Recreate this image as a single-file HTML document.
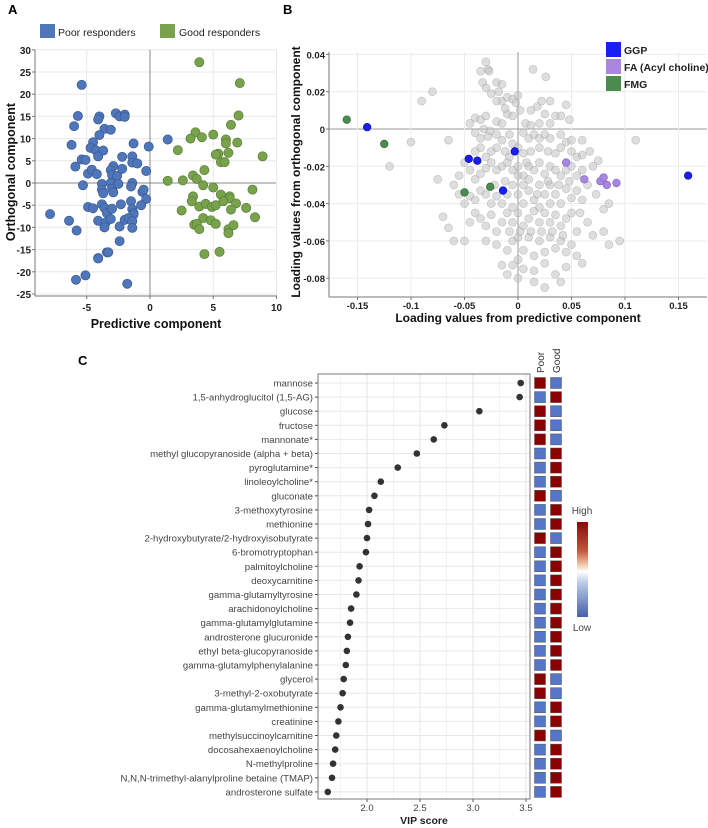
<!DOCTYPE html>
<html><head><meta charset="utf-8"><style>
html,body{margin:0;padding:0;background:#fff}
svg{display:block;font-family:"Liberation Sans",sans-serif}
</style></head><body>
<svg id="fig" width="708" height="828" viewBox="0 0 708 828" xmlns="http://www.w3.org/2000/svg">
<g id="A"></g>
<g id="B"></g>
<g id="C"></g>
</svg>
<script>
// ---------- Panel A data ----------
const poorX=[-5.4,-5.7,-6.0,-6.2,-5.9,-5.3,-5.4,-5.1,-7.9,-6.4,-5.8,-4.9,-4.5,-4.0,-4.1,-3.6,-4.0,-3.1,-4.5,-4.7,-4.3,-3.7,-4.1,-4.9,-4.6,-4.2,-3.8,-3.8,-3.7,-3.8,-3.6,-3.4,-4.1,-3.5,-3.6,-3.1,-3.0,-2.7,-2.4,-2.0,-2.0,-2.9,-3.1,-3.0,-2.6,-2.2,-2.2,-3.1,-3.0,-2.9,-2.5,-2.3,-2.4,-2.4,-3.4,-4.1,-1.3,-1.4,-1.4,-1.0,-1.4,-1.5,-1.5,-1.4,-1.3,-1.3,-2.0,-1.7,-1.4,-1.4,-0.6,-0.5,-0.3,-0.7,-0.3,-0.1,1.4,-5.85,-5.1,-4.1,-3.3,-1.8];
const poorY=[22.1,15.1,12.8,8.6,3.7,-0.5,5.3,5.2,-7,-8.5,-10.7,-5.4,-5.7,15,14.3,12.2,10.8,12,9.2,7.9,7.4,7.3,6,2.1,3,2,-0.2,-1.5,-2.3,-4.8,-5.6,-6.8,-8.5,-8.9,-10,-8.1,-5.8,15.7,15,15.4,14.9,3.8,2.9,1.8,1.6,3.2,5.9,0,-1.3,-2.1,-0.2,-4.8,-9.8,-13.1,-15.6,-16.9,8.9,6,4.6,4.4,0,-0.8,-4.1,-5.9,-6.8,-7.1,-8.3,-7.9,-8.6,-10.1,-2,-1.5,-3.6,-5,2.7,8.2,9.8,-21.8,-20.8,-17,-15.6,-22.7];
const goodX=[3.9,7.1,7.0,6.4,3.6,3.2,4.1,5.0,6.0,6.0,6.9,2.2,6.2,5.4,5.2,5.6,5.9,8.9,4.3,3.4,3.7,1.4,2.6,4.2,5.0,3.4,3.3,3.9,4.4,4.9,5.2,5.6,6.3,6.3,5.8,6.8,6.4,7.6,8.1,8.3,2.5,4.2,4.8,5.2,3.5,3.7,3.9,6.2,6.6,6.2,4.3,5.5];
const goodY=[27.2,22.5,15.2,13.1,11.4,10,10.3,10.9,9.8,8.9,9.1,7.4,6.8,6.6,6.4,4.7,4.7,6,2.9,1.7,0.9,0.5,0.6,-0.5,-1,-3,-4.1,-5.3,-4.7,-5.4,-5,-2.6,-3,-3.5,-4.1,-4.6,-6,-5.6,-1.5,-7.7,-6.2,-7.9,-8.4,-9.2,-9.4,-9.2,-10.4,-10.4,-9.5,-11.3,-16,-15.5];
const aYTicks=[30,25,20,15,10,5,0,-5,-10,-15,-20,-25];
const aXTicks=[-5,0,5,10];

// ---------- Panel B data ----------
const grayX=[-0.03,-0.035,-0.028,-0.027,-0.033,-0.03,-0.025,-0.02,-0.015,-0.018,-0.015,-0.02,-0.01,-0.005,0,-0.002,0.014,0.026,-0.08,-0.09,-0.04,-0.035,-0.03,-0.032,-0.026,-0.02,-0.015,-0.01,-0.012,-0.005,0.002,0.012,0.018,0.022,0.03,0.025,0.035,0.04,0.045,0.048,0.03,0.02,0.007,0.012,-0.045,-0.04,-0.035,-0.028,-0.02,-0.015,-0.008,-0.005,0.005,0.01,0.015,0.02,0.025,0.03,0.04,0.045,0.05,0.06,0.11,-0.1,-0.065,-0.12,-0.075,-0.04,-0.035,-0.03,-0.025,-0.02,-0.012,-0.008,0,0.005,0.012,0.02,0.028,0.035,0.04,0.05,0.055,0.06,0.067,0.075,0.07,-0.05,-0.045,-0.055,-0.04,-0.035,-0.03,-0.025,-0.02,-0.015,-0.01,-0.005,0,0.005,0.01,0.015,0.02,0.025,0.03,0.035,0.04,0.045,0.05,0.055,0.06,0.065,0.073,0.085,0.08,-0.06,-0.055,-0.05,-0.045,-0.04,-0.035,-0.03,-0.025,-0.02,-0.015,-0.01,-0.005,0,0.005,0.01,0.015,0.02,0.025,0.03,0.035,0.04,0.045,0.05,0.055,0.06,-0.07,-0.065,-0.06,-0.05,-0.045,-0.04,-0.035,-0.03,-0.025,-0.02,-0.015,-0.01,-0.005,0,0.005,0.01,0.015,0.02,0.025,0.03,0.035,0.04,0.045,0.05,0.055,0.065,0.07,0.08,0.085,0.095,-0.03,-0.02,-0.01,-0.005,0,0.005,0.01,0.015,0.02,0.025,0.03,0.035,0.04,0.045,0.05,0.055,-0.015,-0.005,0,0.005,0.015,0.025,0.035,0.045,0.06,0.04,0.015,0.025,0.0,-0.01,0.0,0.005,0.01,0.02,0.03,-0.005,0.012,0.022,0.032,0.042,0.002,-0.008,0.018,0.028,0.038,0.008,-0.012,-0.022,0.048,0.058];
const grayY=[0.036,0.031,0.032,0.031,0.025,0.022,0.019,0.025,0.024,0.02,0.015,0.015,0.017,0.016,0.018,0.014,0.032,0.028,0.02,0.015,0.006,0.005,0.007,0,-0.001,0.004,0.003,0.008,0.011,0.007,0.01,0.01,0.012,0.015,0.015,0.008,0.007,0.007,0.013,0.005,0.003,0.003,0.003,0.002,0.003,-0.002,-0.005,-0.004,-0.003,-0.006,-0.003,-0.008,-0.002,-0.005,-0.003,-0.005,-0.003,-0.005,-0.003,-0.007,-0.006,-0.006,-0.006,-0.007,-0.006,-0.02,-0.027,-0.012,-0.01,-0.015,-0.012,-0.01,-0.012,-0.015,-0.01,-0.013,-0.012,-0.01,-0.012,-0.013,-0.01,-0.012,-0.015,-0.014,-0.012,-0.017,-0.02,-0.018,-0.022,-0.025,-0.027,-0.024,-0.021,-0.018,-0.022,-0.02,-0.018,-0.022,-0.02,-0.025,-0.02,-0.022,-0.018,-0.024,-0.02,-0.022,-0.025,-0.022,-0.02,-0.025,-0.022,-0.03,-0.035,-0.04,-0.043,-0.03,-0.035,-0.04,-0.036,-0.038,-0.033,-0.035,-0.04,-0.036,-0.04,-0.035,-0.03,-0.035,-0.03,-0.033,-0.038,-0.03,-0.035,-0.03,-0.035,-0.04,-0.032,-0.037,-0.033,-0.038,-0.047,-0.053,-0.06,-0.06,-0.05,-0.045,-0.048,-0.052,-0.046,-0.055,-0.05,-0.045,-0.05,-0.045,-0.052,-0.048,-0.044,-0.05,-0.045,-0.05,-0.046,-0.052,-0.048,-0.045,-0.055,-0.05,-0.057,-0.055,-0.062,-0.06,-0.06,-0.062,-0.065,-0.06,-0.058,-0.065,-0.058,-0.068,-0.06,-0.066,-0.058,-0.064,-0.06,-0.066,-0.062,-0.068,-0.073,-0.073,-0.07,-0.075,-0.076,-0.072,-0.078,-0.074,-0.072,-0.082,-0.082,-0.085,-0.08,-0.078,-0.025,-0.04,-0.027,-0.042,-0.04,-0.042,-0.055,-0.055,-0.055,-0.057,-0.055,-0.055,-0.035,-0.028,-0.03,-0.018,-0.028,-0.03,-0.028,-0.045];
const ggpX=[-0.141,-0.046,-0.038,-0.003,-0.014,0.159];
const ggpY=[0.001,-0.016,-0.017,-0.012,-0.033,-0.025];
const faX=[0.045,0.062,0.077,0.080,0.083,0.092];
const faY=[-0.018,-0.027,-0.028,-0.026,-0.030,-0.029];
const fmgX=[-0.160,-0.125,-0.050,-0.026];
const fmgY=[0.005,-0.008,-0.034,-0.031];
const bYTicks=[0.04,0.02,0,-0.02,-0.04,-0.06,-0.08];
const bXTicks=[-0.15,-0.1,-0.05,0,0.05,0.1,0.15];

// ---------- Panel C data ----------
const metabolites=["mannose","1,5-anhydroglucitol (1,5-AG)","glucose","fructose","mannonate*","methyl glucopyranoside (alpha + beta)","pyroglutamine*","linoleoylcholine*","gluconate","3-methoxytyrosine","methionine","2-hydroxybutyrate/2-hydroxyisobutyrate","6-bromotryptophan","palmitoylcholine","deoxycarnitine","gamma-glutamyltyrosine","arachidonoylcholine","gamma-glutamylglutamine","androsterone glucuronide","ethyl beta-glucopyranoside","gamma-glutamylphenylalanine","glycerol","3-methyl-2-oxobutyrate","gamma-glutamylmethionine","creatinine","methylsuccinoylcarnitine","docosahexaenoylcholine","N-methylproline","N,N,N-trimethyl-alanylproline betaine (TMAP)","androsterone sulfate"];
const vipScores=[3.45,3.44,3.06,2.73,2.63,2.47,2.29,2.13,2.07,2.02,2.01,2.00,1.99,1.93,1.92,1.90,1.85,1.84,1.82,1.81,1.80,1.78,1.77,1.75,1.73,1.71,1.70,1.68,1.67,1.63];
const poorHigh=[1,0,1,1,1,0,0,0,1,0,0,1,0,0,0,0,0,0,0,0,0,1,1,0,0,1,0,0,0,0];
const vipTicks=[2.0,2.5,3.0,3.5];

const NS="http://www.w3.org/2000/svg";
function el(parent,tag,attrs,text){const e=document.createElementNS(NS,tag);for(const k in attrs)e.setAttribute(k,attrs[k]);if(text!==undefined)e.textContent=text;parent.appendChild(e);return e;}
function fmt(v){return String(v);}

// ---------- Panel A ----------
(function(){
const g=document.getElementById('A');
const L=35,R=277,T=50,Bt=296;
const xs=v=>150+v*12.65, ys=v=>183-v*4.44;
let t=el(g,'text',{x:8,y:14,'font-size':13,'font-weight':'bold'},'A');


let lg=el(g,'g',{});


let r1=el(lg,'rect',{x:40,y:24,width:15,height:14,fill:'#4f76b9'});


let t1=el(lg,'text',{x:58,y:36,'font-size':10.5,fill:'#222'},'Poor responders');


let r2=el(lg,'rect',{x:160,y:24,width:15,height:14,fill:'#78a24c'});


let t2=el(lg,'text',{x:179,y:36,'font-size':10.5,fill:'#222'},'Good responders');


aYTicks.forEach(v=>{const y=ys(v);
 const l=el(g,'line',{x1:L,x2:R,y1:y,y2:y,stroke:v===0?'#888':'#e8e8e8','stroke-width':1});
 
 
 el(g,'line',{x1:L-3,x2:L,y1:y,y2:y,stroke:'#777'});
 const tx=el(g,'text',{x:L-4,y:y+4,'font-size':10,'font-weight':'bold','text-anchor':'end',fill:'#222'},fmt(v));
 
 
});
aXTicks.forEach(v=>{const x=xs(v);
 const l=el(g,'line',{x1:x,x2:x,y1:T,y2:Bt,stroke:v===0?'#888':'#e8e8e8','stroke-width':1});
 
 
 el(g,'line',{x1:x,x2:x,y1:Bt,y2:Bt+3,stroke:'#777'});
 const tx=el(g,'text',{x:x,y:Bt+15,'font-size':10,'font-weight':'bold','text-anchor':'middle',fill:'#222'},fmt(v));
 
 
});
el(g,'line',{x1:L,x2:L,y1:T,y2:Bt,stroke:'#777'});
el(g,'line',{x1:L,x2:R,y1:Bt,y2:Bt,stroke:'#777'});
for(let i=0;i<poorX.length;i++){
 const c=el(g,'circle',{cx:xs(poorX[i]),cy:ys(poorY[i]),r:4.6,fill:'#4f76b9',stroke:'#3a5a94','stroke-width':0.7});
 
 
}
for(let i=0;i<goodX.length;i++){
 const c=el(g,'circle',{cx:xs(goodX[i]),cy:ys(goodY[i]),r:4.6,fill:'#78a24c',stroke:'#5a7e35','stroke-width':0.7});
 
 
}
const xt=el(g,'text',{x:156,y:328,'font-size':12.5,'font-weight':'bold','text-anchor':'middle',fill:'#111'},'Predictive component');


const yt=el(g,'text',{x:0,y:0,'font-size':12.5,'font-weight':'bold','text-anchor':'middle',fill:'#111',transform:'translate(15,172) rotate(-90)'},'Orthogonal component');


})();

// ---------- Panel B ----------
(function(){
const g=document.getElementById('B');
const L=329,R=707,T=52,Bt=297;
const xs=v=>518+v*1070, ys=v=>129-v*1865;
let t=el(g,'text',{x:283,y:14,'font-size':13,'font-weight':'bold'},'B');


bYTicks.forEach(v=>{const y=ys(v);
 const l=el(g,'line',{x1:L,x2:R,y1:y,y2:y,stroke:v===0?'#999':'#ececec'});
 
 
 el(g,'line',{x1:L-3,x2:L,y1:y,y2:y,stroke:'#777'});
 const tx=el(g,'text',{x:L-4,y:y+4,'font-size':9.5,'font-weight':'bold','text-anchor':'end',fill:'#222'},fmt(v));
 
 
});
bXTicks.forEach(v=>{const x=xs(v);
 const l=el(g,'line',{x1:x,x2:x,y1:T,y2:Bt,stroke:v===0?'#999':'#ececec'});
 
 
 el(g,'line',{x1:x,x2:x,y1:Bt,y2:Bt+3,stroke:'#777'});
 const tx=el(g,'text',{x:x,y:Bt+12,'font-size':9.5,'font-weight':'bold','text-anchor':'middle',fill:'#222'},fmt(v));
 
 
});
el(g,'line',{x1:L,x2:L,y1:T,y2:Bt,stroke:'#777'});
el(g,'line',{x1:L,x2:R,y1:Bt,y2:Bt,stroke:'#777'});
for(let i=0;i<grayX.length;i++){
 const c=el(g,'circle',{cx:xs(grayX[i]),cy:ys(grayY[i]),r:4,fill:'rgba(195,195,195,0.55)',stroke:'rgba(155,155,155,0.55)','stroke-width':0.6});
 
 
}
function series(X,Y,fill,stroke,name){for(let i=0;i<X.length;i++){
 const c=el(g,'circle',{cx:xs(X[i]),cy:ys(Y[i]),r:3.8,fill:fill,stroke:stroke,'stroke-width':0.7});
 
 
}}
series(fmgX,fmgY,'#4b8b4f','#336b37','fmg-point');
series(ggpX,ggpY,'#1a1ef0','#1010a0','ggp-point');
series(faX,faY,'#a987e0','#8a66c8','fa-point');
const lg=el(g,'g',{});


[['#1a1ef0','GGP',42],['#a987e0','FA (Acyl choline)',59],['#4b8b4f','FMG',76]].forEach(d=>{
 const r=el(lg,'rect',{x:606,y:d[2],width:15,height:15,fill:d[0]});
 
 
 const tx=el(lg,'text',{x:624,y:d[2]+12,'font-size':10.5,'font-weight':'bold',fill:'#222'},d[1]);
 
 
});
const xt=el(g,'text',{x:518,y:322,'font-size':12,'font-weight':'bold','text-anchor':'middle',fill:'#111'},'Loading values from predictive component');


const yt=el(g,'text',{x:0,y:0,'font-size':12,'font-weight':'bold','text-anchor':'middle',fill:'#111',transform:'translate(300,172) rotate(-90)'},'Loading values from orthogonal component');


})();

// ---------- Panel C ----------
(function(){
const g=document.getElementById('C');
const L=318,R=530,T=374,Bt=799;
const xs=v=>367+(v-2)*106, rowY=i=>383+i*14.1;
let t=el(g,'text',{x:78,y:365,'font-size':13,'font-weight':'bold'},'C');


[1.75,2.25,2.75,3.25].forEach(v=>{el(g,'line',{x1:xs(v),x2:xs(v),y1:T,y2:Bt,stroke:'#f2f2f2'});});
vipTicks.forEach(v=>{const x=xs(v);
 const l=el(g,'line',{x1:x,x2:x,y1:T,y2:Bt,stroke:'#e4e4e4'});
 
 
 el(g,'line',{x1:x,x2:x,y1:Bt,y2:Bt+3,stroke:'#555'});
 const tx=el(g,'text',{x:x,y:Bt+12,'font-size':9.5,'text-anchor':'middle',fill:'#444'},v.toFixed(1));
 
 
});
metabolites.forEach((m,i)=>{const y=rowY(i);
 el(g,'line',{x1:L,x2:R,y1:y,y2:y,stroke:'#e8e8e8'});
 el(g,'line',{x1:L-3,x2:L,y1:y,y2:y,stroke:'#444'});
 const tx=el(g,'text',{x:L-5,y:y+3.5,'font-size':9.6,'text-anchor':'end',fill:'#444'},m);
 
 
 const c=el(g,'circle',{cx:xs(vipScores[i]),cy:y,r:3.3,fill:'#333'});
 
 
 const red='#8b0000',blue='#5575c8';
 const p=el(g,'rect',{x:534.5,y:y-5.5,width:11,height:11,fill:poorHigh[i]?red:blue,stroke:'#555','stroke-width':0.5});
 
 
 const q=el(g,'rect',{x:550.5,y:y-5.5,width:11,height:11,fill:poorHigh[i]?blue:red,stroke:'#555','stroke-width':0.5});
 
 
});
el(g,'rect',{x:L,y:T,width:R-L,height:Bt-T,fill:'none',stroke:'#777','stroke-width':1});
const xt=el(g,'text',{x:424,y:824,'font-size':10.5,'font-weight':'bold','text-anchor':'middle',fill:'#222'},'VIP score');


const pl=el(g,'text',{x:0,y:0,'font-size':10,'fill':'#333',transform:'translate(544,373) rotate(-90)'},'Poor');


const gl=el(g,'text',{x:0,y:0,'font-size':10,'fill':'#333',transform:'translate(560,373) rotate(-90)'},'Good');


const defs=el(g,'defs',{});
const grad=el(defs,'linearGradient',{id:'cb',x1:0,y1:0,x2:0,y2:1});
[['0','#8b0a0a'],['0.3','#c0563a'],['0.45','#f0c8a8'],['0.52','#ffffff'],['0.65','#b8c6e8'],['1','#4460a8']].forEach(s=>el(grad,'stop',{offset:s[0],'stop-color':s[1]}));
const cb=el(g,'rect',{x:577,y:522,width:11,height:95,fill:'url(#cb)'});


const hi=el(g,'text',{x:582,y:514,'font-size':10,'text-anchor':'middle',fill:'#444'},'High');


const lo=el(g,'text',{x:582,y:631,'font-size':10,'text-anchor':'middle',fill:'#444'},'Low');


})();
</script>
</body></html>
